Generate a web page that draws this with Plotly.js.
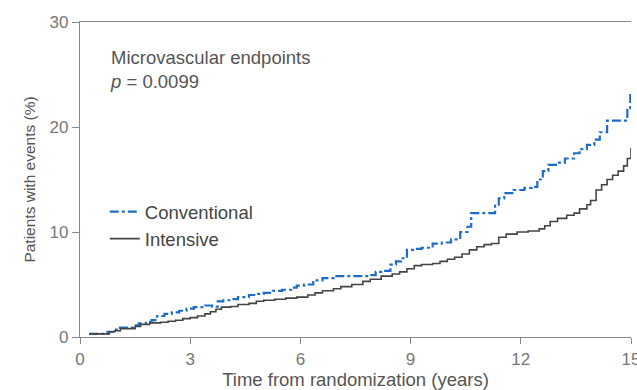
<!DOCTYPE html>
<html>
<head>
<meta charset="utf-8">
<script src="https://cdn.plot.ly/plotly-3.0.1.min.js"></script>
<style>html,body{margin:0;padding:0;background:#fff}#chart{width:637px;height:390px}</style>
</head>
<body>
<div id="chart"></div>
<script>
// Conventional (dash-dot blue)
var convTime = [0.25,0.6,0.75,0.9,1.0,1.3,1.45,1.6,1.8,1.95,2.1,2.3,2.5,2.7,2.9,3.1,3.4,3.6,3.75,3.9,4.1,4.3,4.6,4.8,5.0,5.25,5.5,5.75,5.9,6.1,6.35,6.6,6.9,7.9,8.05,8.2,8.45,8.6,8.75,8.9,9.1,9.3,9.6,9.85,10.1,10.35,10.55,10.65,11.3,11.4,11.55,11.8,12.1,12.3,12.45,12.6,12.75,13.0,13.2,13.45,13.6,13.8,14.0,14.15,14.35,14.9,14.98];
var convPct  = [0.3,0.3,0.5,0.7,0.9,0.9,1.1,1.3,1.45,1.6,2.0,2.2,2.35,2.5,2.7,2.85,3.0,2.9,3.4,3.5,3.6,3.8,4.0,4.1,4.2,4.4,4.5,4.7,4.9,5.0,5.4,5.6,5.8,5.9,6.2,6.3,6.9,7.2,7.5,8.3,8.4,8.5,8.9,9.0,9.3,10.0,10.5,11.8,12.6,13.2,13.7,14.0,14.2,14.3,15.0,15.8,16.4,16.6,17.0,17.5,17.9,18.3,18.8,19.5,20.6,21.8,23.2];
// Intensive (solid dark grey)
var intTime = [0.25,0.6,0.8,0.95,1.1,1.4,1.5,1.65,1.9,2.2,2.4,2.6,2.8,3.0,3.2,3.4,3.55,3.7,3.85,4.1,4.3,4.6,4.8,5.0,5.3,5.6,5.9,6.2,6.4,6.6,6.9,7.1,7.4,7.7,7.9,8.2,8.5,8.7,8.9,9.1,9.3,9.6,9.8,10.0,10.2,10.4,10.6,10.8,11.0,11.2,11.4,11.6,11.9,12.2,12.5,12.65,12.8,13.0,13.25,13.45,13.6,13.8,13.9,14.05,14.2,14.35,14.5,14.65,14.8,14.9,15.0];
var intPct  = [0.3,0.3,0.5,0.6,0.8,0.8,1.0,1.2,1.35,1.4,1.5,1.6,1.75,1.85,2.0,2.2,2.4,2.65,2.85,2.9,3.1,3.2,3.4,3.5,3.6,3.7,3.8,4.0,4.2,4.4,4.6,4.8,5.0,5.3,5.5,5.8,6.0,6.2,6.5,6.8,6.9,7.0,7.2,7.4,7.6,7.9,8.3,8.6,8.8,8.9,9.5,9.8,10.0,10.1,10.3,10.6,11.0,11.3,11.6,11.8,12.2,12.6,13.0,14.0,14.5,15.0,15.4,15.8,16.3,17.0,18.0];

var xTicks = [0,3,6,9,12,15];
var yTicks = [0,10,20,30];
var seriesNames = ["Conventional","Intensive"];

var FONT = "Liberation Sans, Arial, sans-serif";
var traces = [
  {x: convTime, y: convPct, name: seriesNames[0], type: "scatter", mode: "lines",
   line: {shape: "hv", color: "#1f6cc8", width: 2.2, dash: "dashdot"}},
  {x: intTime, y: intPct, name: seriesNames[1], type: "scatter", mode: "lines",
   line: {shape: "hv", color: "#444444", width: 1.6}}
];
var layout = {
  width: 637, height: 390,
  margin: {l: 80, r: 6, t: 22, b: 53},
  paper_bgcolor: "#fff", plot_bgcolor: "#fff",
  font: {family: FONT, color: "#555", size: 17},
  showlegend: true,
  legend: {x: 0.045, y: 0.457, xanchor: "left", yanchor: "top", bgcolor: "rgba(0,0,0,0)",
           font: {size: 18.5, color: "#444"}, tracegroupgap: 0, itemwidth: 30},
  xaxis: {range: [0, 15], tickvals: xTicks, ticktext: xTicks.map(String),
          showgrid: false, zeroline: false, showline: true, linecolor: "#888", linewidth: 1.2,
          mirror: true, ticks: "outside", ticklen: 6, tickcolor: "#888",
          ticklabeloverflow: "allow",
          tickfont: {size: 17, color: "#777"},
          title: {text: "Time from randomization (years)", font: {size: 18.5, color: "#555"}, standoff: 3}},
  yaxis: {range: [0, 30], tickvals: yTicks, ticktext: yTicks.map(String),
          showgrid: false, zeroline: false, showline: true, linecolor: "#888", linewidth: 1.2,
          ticks: "outside", ticklen: 7, tickcolor: "#888",
          ticklabeloverflow: "allow",
          tickfont: {size: 17, color: "#777"},
          title: {text: "Patients with events (%)", font: {size: 15.5, color: "#555"}, standoff: 10}},
  annotations: [
    {xref: "paper", yref: "paper", x: 0.05, y: 0.928, xanchor: "left", yanchor: "top", align: "left",
     showarrow: false, text: "Microvascular endpoints<br><i>p</i> = 0.0099",
     font: {size: 18.5, color: "#555"}}
  ]
};
Plotly.newPlot("chart", traces, layout, {displayModeBar: false, staticPlot: true});
</script>
</body>
</html>
